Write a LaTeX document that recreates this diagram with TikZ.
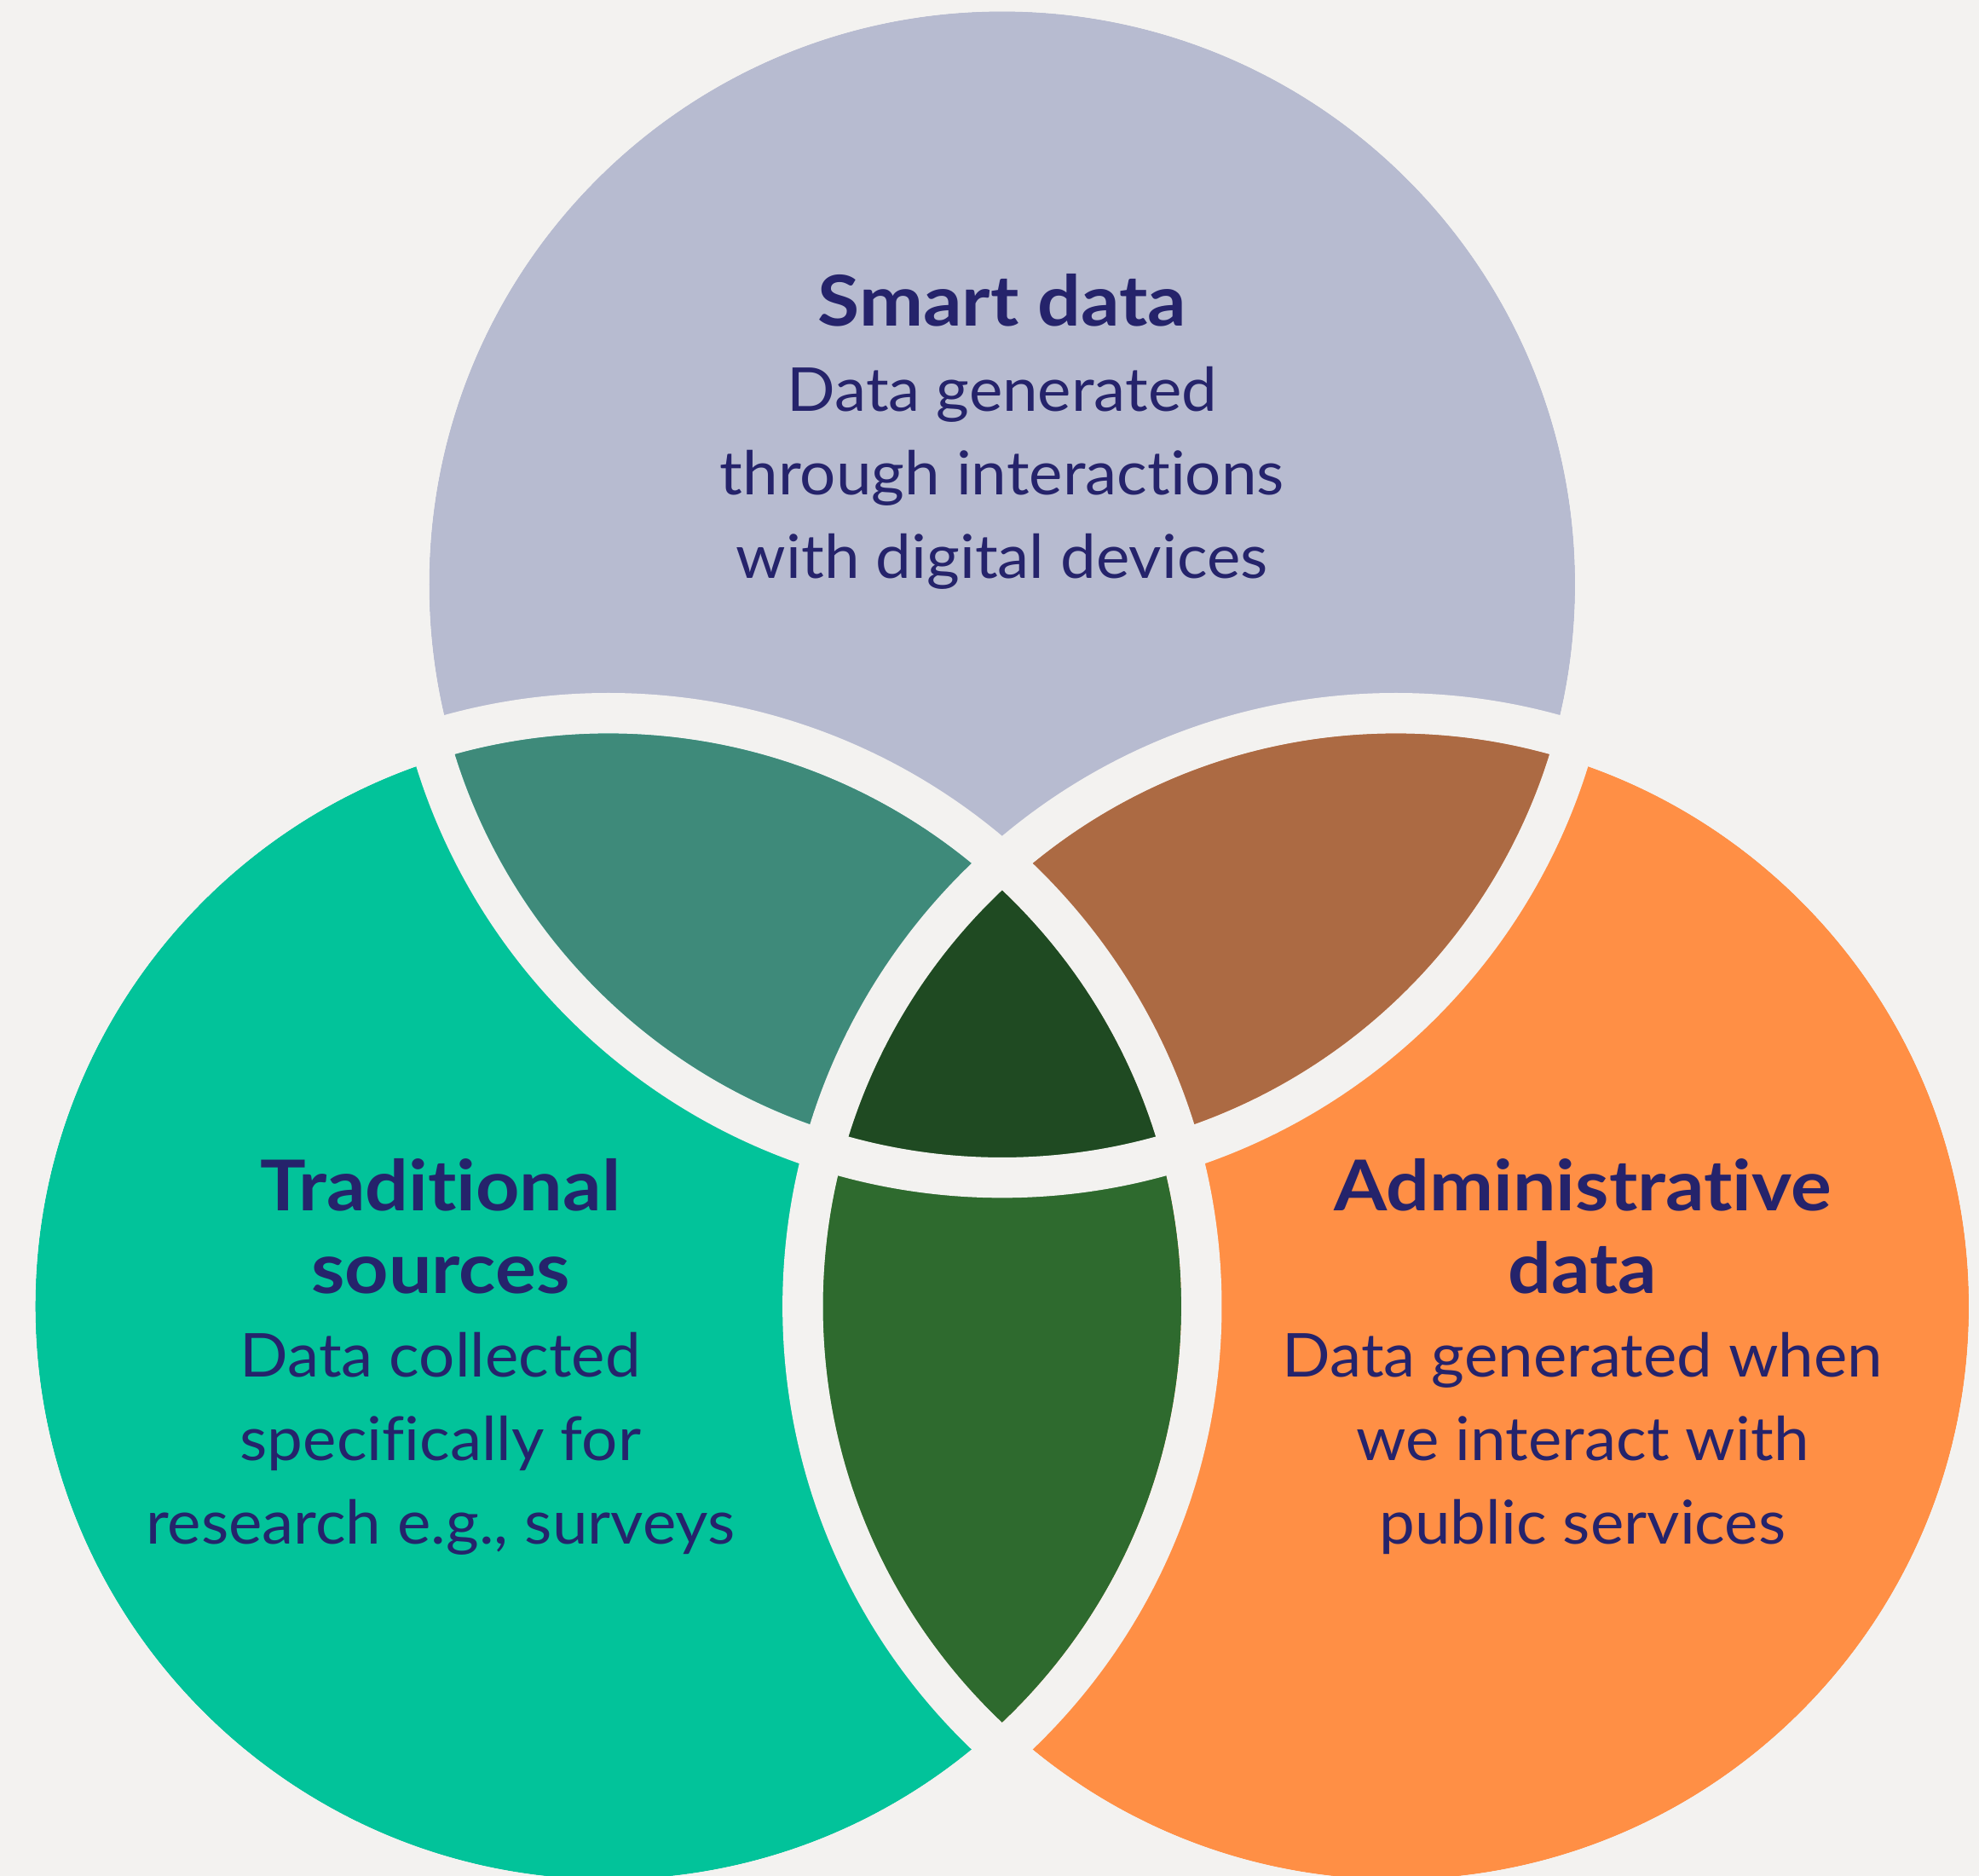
\documentclass[tikz,border=0pt]{standalone}
\usepackage{fontspec}
\setmainfont{Lato}[RawFeature={-liga;-calt;-dlig}, UprightFeatures={FakeStretch=1.05}, BoldFeatures={FakeStretch=1.09}]
\usetikzlibrary{positioning}

\definecolor{paper}{HTML}{F3F2F0}
\definecolor{ink}{HTML}{25236B}
\definecolor{smartfill}{HTML}{B7BBD0}
\definecolor{tradfill}{HTML}{02C39A}
\definecolor{adminfill}{HTML}{FF8F45}
\definecolor{smarttrad}{HTML}{3E8A7A}
\definecolor{smartadmin}{HTML}{AC6A43}
\definecolor{tradadmin}{HTML}{2E6A2E}
\definecolor{allthree}{HTML}{1F4A22}

\newcommand\Rad{454}

\begin{document}
\begin{tikzpicture}[
	x=0.1481mm, y=-0.1481mm,
	every node/.style = {align=center, text=ink, inner sep=0pt},
	Title/.style = {font=\fontsize{23.4}{27.6}\selectfont\bfseries, anchor=base},
	Body/.style = {font=\fontsize{20.2}{27.9}\selectfont, anchor=base},
	Gap/.style = {draw=paper, line width=4.74mm}
]
\useasboundingbox[fill=paper] (0,0) rectangle (1568,1486);
\coordinate (smart) at (794,463);
\coordinate (trad)  at (482,1035);
\coordinate (admin) at (1106,1035);

% the three sets
\fill[smartfill] (smart) circle[radius=\Rad];
\fill[tradfill]  (trad)  circle[radius=\Rad];
\fill[adminfill] (admin) circle[radius=\Rad];

% pairwise overlaps
\begin{scope}
	\clip (smart) circle[radius=\Rad];
	\fill[smarttrad] (trad) circle[radius=\Rad];
	\fill[smartadmin] (admin) circle[radius=\Rad];
\end{scope}
\begin{scope}
	\clip (trad) circle[radius=\Rad];
	\fill[tradadmin] (admin) circle[radius=\Rad];
\end{scope}

% middle
\begin{scope}
	\clip (smart) circle[radius=\Rad];
	\clip (trad) circle[radius=\Rad];
	\fill[allthree] (admin) circle[radius=\Rad];
\end{scope}

% gaps round every circle
\foreach \c in {smart,trad,admin}
	\draw[Gap] (\c) circle[radius=470];

% labels (anchored at the baseline of their last line)
\node[Title] (smart title) at (794,258.6) {Smart data};
\node[Body]  (smart text)  at (794,458) {Data generated\\through interactions\\with digital devices};

\node[Title] (trad title) at (349,1025) {Traditional\\sources};
\node[Body]  (trad text)  at (349,1223.5) {Data collected\\specifically for\\research e.g., surveys};

\node[Title] (admin title) at (1254,1025) {Administrative\\data};
\node[Body]  (admin text)  at (1254,1223.5) {Data generated when\\we interact with\\public services};
\end{tikzpicture}
\end{document}
